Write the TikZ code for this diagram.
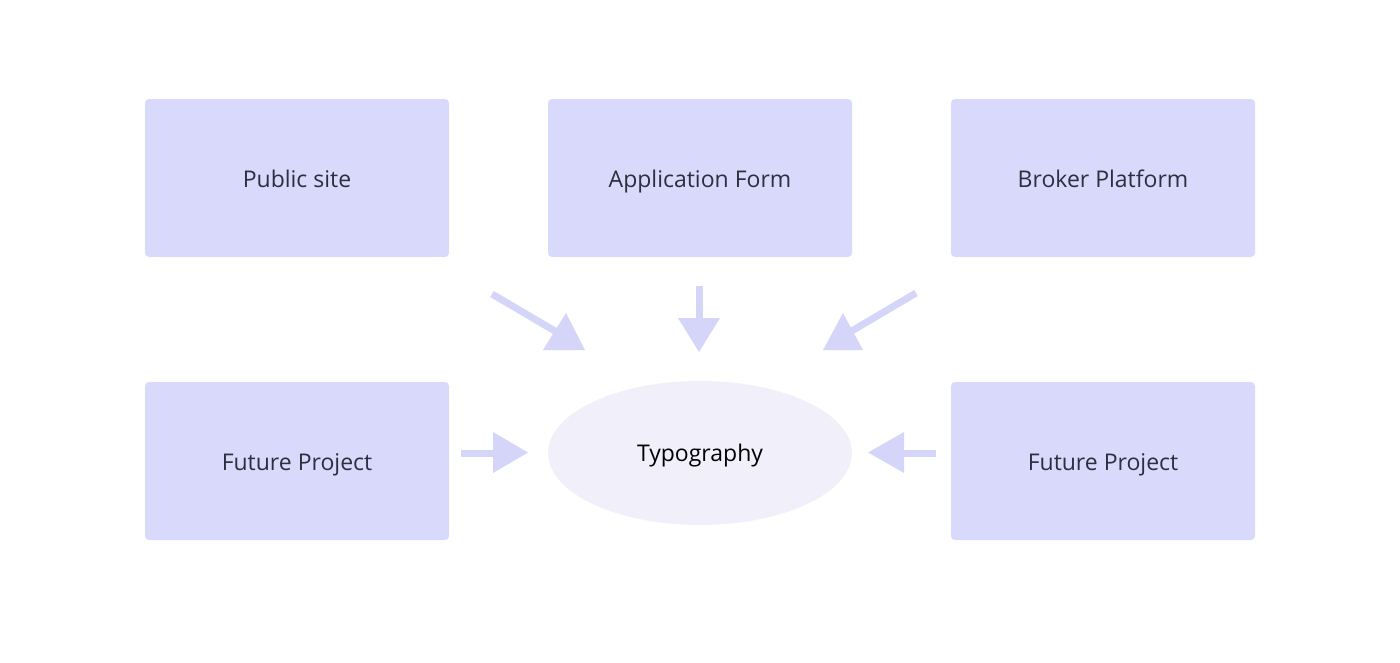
\documentclass[tikz,border=0pt]{standalone}
\usepackage{fontspec}
\setmainfont{Open Sans}
\usetikzlibrary{shapes.geometric}
\definecolor{boxfill}{HTML}{D9D9FC}
\definecolor{arrowcol}{HTML}{D5D5F9}
\definecolor{ellfill}{HTML}{F1F0FA}
\definecolor{txt}{HTML}{2E2E3F}
\tikzset{
  boxnode/.style={fill=boxfill, rounded corners=4pt, minimum width=304pt, minimum height=158pt, inner sep=0pt},
  ellnode/.style={ellipse, fill=ellfill, minimum width=304pt, minimum height=144pt, inner sep=0pt},
  label/.style={text=txt, inner sep=0pt, text height=17pt, text depth=5pt, font=\fontsize{23}{27}\selectfont},
  shaft/.style={draw=arrowcol, line width=7pt},
  head/.style={fill=arrowcol}
}
\begin{document}
\begin{tikzpicture}[x=1pt,y=-1pt]
\useasboundingbox (0,0) rectangle (1400,662);
\node[boxnode] (pub) at (297,178) {};
\node[boxnode] (app) at (700,178) {};
\node[boxnode] (bro) at (1103,178) {};
\node[boxnode] (fl) at (297,461) {};
\node[boxnode] (fr) at (1103,461) {};
\node[ellnode] (typo) at (700,453) {};
\node[label] (tpub) at ([yshift=-3pt]pub.center) {Public site};
\node[label] (tapp) at ([yshift=-3pt]app.center) {Application Form};
\node[label] (tbro) at ([yshift=-3pt]bro.center) {Broker Platform};
\node[label] (tfl) at ([yshift=-3pt]fl.center) {Future Project};
\node[label] (tfr) at ([yshift=-3pt]fr.center) {Future Project};
\node[label, text=black] (ttypo) at ([yshift=-2pt]typo.center) {Typography};
% left diagonal
\coordinate (a1s) at (492,294);
\coordinate (a1e) at (560,334);
\draw[shaft] (a1s) -- (a1e);
\fill[head] (543,350) -- (585,350) -- (566,313) -- cycle;
% middle
\coordinate (a2s) at (699,286);
\coordinate (a2e) at (699,320);
\draw[shaft] (a2s) -- (a2e);
\fill[head] (678,318) -- (720,318) -- (699,352) -- cycle;
% right diagonal
\coordinate (a3s) at (916,293);
\coordinate (a3e) at (850,332);
\draw[shaft] (a3s) -- (a3e);
\fill[head] (823,350) -- (863,350) -- (843,313) -- cycle;
% left horizontal
\coordinate (a4s) at (461,453);
\coordinate (a4e) at (495,453);
\draw[shaft] (a4s) -- (a4e);
\fill[head] (493,432) -- (493,473) -- (528,452.5) -- cycle;
% right horizontal
\coordinate (a5s) at (936,453);
\coordinate (a5e) at (902,453);
\draw[shaft] (a5s) -- (a5e);
\fill[head] (904,432) -- (904,473) -- (868,452.5) -- cycle;
\end{tikzpicture}
\end{document}
